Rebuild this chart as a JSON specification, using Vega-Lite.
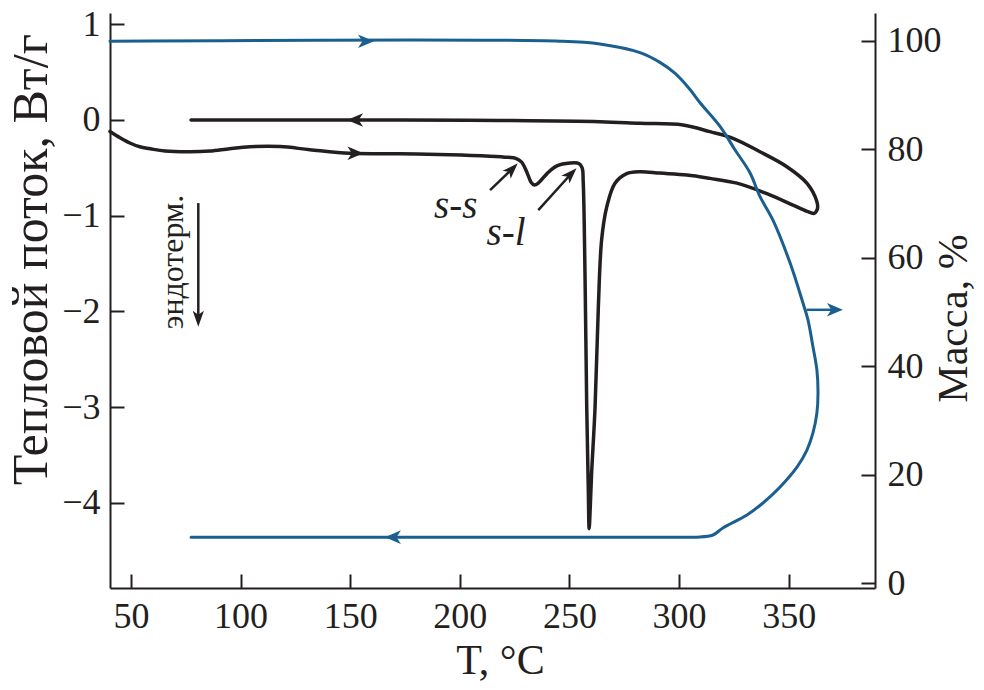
{
  "$schema": "https://vega.github.io/schema/vega-lite/v6.json",
  "width": 765,
  "height": 575,
  "autosize": {"type": "none"},
  "padding": {"left": 110, "top": 13, "right": 109, "bottom": 102},
  "background": "white",
  "config": {
    "view": {"stroke": null},
    "font": "Liberation Serif",
    "axis": {
      "domainColor": "#231f20", "domainWidth": 2,
      "tickColor": "#231f20", "tickWidth": 2, "tickSize": -14,
      "labelFont": "Liberation Serif", "labelFontSize": 36, "labelColor": "#231f20",
      "titleFont": "Liberation Serif", "titleFontSize": 42, "titleFontWeight": "normal", "titleColor": "#231f20",
      "grid": false, "labelFlush": false, "labelOverlap": false
    }
  },
  "datasets": {
    "dsc": [
      {"i":1,"T":40.4,"hf":-0.12},{"i":2,"T":45,"hf":-0.185},{"i":3,"T":49.5,"hf":-0.24},{"i":4,"T":54,"hf":-0.28},
      {"i":5,"T":58.7,"hf":-0.30},{"i":6,"T":65.5,"hf":-0.325},{"i":7,"T":76.9,"hf":-0.333},{"i":8,"T":86,"hf":-0.325},
      {"i":9,"T":95,"hf":-0.30},{"i":10,"T":104.3,"hf":-0.28},{"i":11,"T":118,"hf":-0.278},{"i":12,"T":131.6,"hf":-0.31},
      {"i":13,"T":149.9,"hf":-0.348},{"i":14,"T":172.7,"hf":-0.352},{"i":15,"T":195.5,"hf":-0.362},{"i":16,"T":213.8,"hf":-0.378},
      {"i":17,"T":222,"hf":-0.39},{"i":18,"T":225.5,"hf":-0.40},{"i":19,"T":228.2,"hf":-0.44},{"i":20,"T":230.5,"hf":-0.54},
      {"i":21,"T":232.5,"hf":-0.65},{"i":22,"T":234,"hf":-0.68},{"i":23,"T":236,"hf":-0.655},{"i":24,"T":239.8,"hf":-0.56},
      {"i":25,"T":244.3,"hf":-0.48},{"i":26,"T":250.3,"hf":-0.45},{"i":27,"T":254.3,"hf":-0.455},{"i":28,"T":255.8,"hf":-0.50},
      {"i":29,"T":256.3,"hf":-0.65},{"i":30,"T":257.1,"hf":-1.60},{"i":31,"T":257.9,"hf":-3.00},{"i":32,"T":258.6,"hf":-3.85},
      {"i":33,"T":259.0,"hf":-4.27},{"i":34,"T":259.5,"hf":-4.05},{"i":35,"T":260.1,"hf":-3.70},{"i":36,"T":261.7,"hf":-3.00},
      {"i":37,"T":263.2,"hf":-1.95},{"i":38,"T":264.7,"hf":-1.25},{"i":39,"T":267.0,"hf":-0.91},{"i":40,"T":270.8,"hf":-0.66},
      {"i":41,"T":276.1,"hf":-0.56},{"i":42,"T":282.2,"hf":-0.54},{"i":43,"T":291.3,"hf":-0.555},{"i":44,"T":303.6,"hf":-0.575},
      {"i":45,"T":314.1,"hf":-0.61},{"i":46,"T":326.4,"hf":-0.66},{"i":47,"T":340.1,"hf":-0.77},{"i":48,"T":352.0,"hf":-0.89},
      {"i":49,"T":358.4,"hf":-0.955},{"i":50,"T":361.6,"hf":-0.975},{"i":51,"T":363.1,"hf":-0.93},{"i":52,"T":362.9,"hf":-0.854},
      {"i":53,"T":358.4,"hf":-0.662},{"i":54,"T":349.2,"hf":-0.488},{"i":55,"T":336.9,"hf":-0.331},{"i":56,"T":324.6,"hf":-0.191},
      {"i":57,"T":314.1,"hf":-0.122},{"i":58,"T":301.8,"hf":-0.052},{"i":59,"T":282.2,"hf":-0.035},{"i":60,"T":263.9,"hf":-0.018},
      {"i":61,"T":218.3,"hf":-0.005},{"i":62,"T":172.7,"hf":0},{"i":63,"T":77.4,"hf":0}
    ],
    "mass": [
      {"i":1,"T":40.4,"m":99.9},{"i":2,"T":245.7,"m":99.9},{"i":3,"T":263.9,"m":99.4},{"i":4,"T":282.2,"m":97.8},
      {"i":5,"T":291.3,"m":96.0},{"i":6,"T":298.1,"m":94.0},{"i":7,"T":305.0,"m":91.0},{"i":8,"T":309.5,"m":88.6},
      {"i":9,"T":318.7,"m":84.2},{"i":10,"T":325.5,"m":79.9},{"i":11,"T":332.3,"m":75.7},{"i":12,"T":336.9,"m":71.3},
      {"i":13,"T":343.0,"m":66.8},{"i":14,"T":350.6,"m":59.1},{"i":15,"T":356.5,"m":51.7},{"i":16,"T":358.8,"m":48.6},
      {"i":17,"T":361.1,"m":43.6},{"i":18,"T":362.9,"m":39.3},{"i":19,"T":363.4,"m":35.0},{"i":20,"T":362.9,"m":31.4},
      {"i":21,"T":361.1,"m":27.7},{"i":22,"T":358.4,"m":24.6},{"i":23,"T":353.8,"m":21.4},{"i":24,"T":346.0,"m":17.7},
      {"i":25,"T":338.3,"m":14.8},{"i":26,"T":331.0,"m":12.6},{"i":27,"T":320.0,"m":10.2},{"i":28,"T":315.5,"m":8.9},
      {"i":29,"T":308.2,"m":8.5},{"i":30,"T":300.4,"m":8.5},{"i":31,"T":77.4,"m":8.5}
    ]
  },
  "layer": [
    {
      "encoding": {
        "x": {"field": "T", "type": "quantitative",
          "scale": {"domain": [40.42, 389.4], "nice": false, "zero": false},
          "axis": {"values": [50,100,150,200,250,300,350], "format": "d", "title": "T, °C", "titleX": 390, "labelPadding": 25, "titlePadding": 6}},
        "y": {"field": "hf", "type": "quantitative",
          "scale": {"domain": [-4.89, 1.118], "nice": false, "zero": false},
          "axis": {"values": [-4,-3,-2,-1,0,1], "format": "d", "title": "Тепловой поток, Вт/г", "titleFontSize": 50, "titleY": 246, "labelPadding": 24, "titlePadding": 5}}
      },
      "layer": [
        {"data": {"name": "dsc"}, "mark": {"type": "line", "color": "#231f20", "strokeWidth": 3.5, "strokeJoin": "round", "strokeCap": "round", "interpolate": "catmull-rom"},
         "encoding": {"order": {"field": "i", "type": "quantitative"}}},
        {"data": {"values": [{"T":213.8,"hf":-0.732,"T2":223.9,"hf2":-0.512},{"T":235.8,"hf":-0.941,"T2":250.7,"hf2":-0.564},{"T":80.7,"hf":-0.868,"T2":80.7,"hf2":-2.077}]},
         "mark": {"type": "rule", "color": "#231f20", "strokeWidth": 2.5},
         "encoding": {"x2": {"field": "T2"}, "y2": {"field": "hf2"}}},
        {"data": {"values": [{"T":152.4,"hf":-0.348}]},
         "mark": {"type": "point", "shape": "M1,0L-1,-0.85L-0.45,0L-1,0.85Z", "filled": true, "color": "#231f20", "opacity": 1, "size": 256, "strokeWidth": 0}},
        {"data": {"values": [{"T":152.2,"hf":0}]},
         "mark": {"type": "point", "shape": "M-1,0L1,-0.85L0.45,0L1,0.85Z", "filled": true, "color": "#231f20", "opacity": 1, "size": 256, "strokeWidth": 0}},
        {"data": {"values": [{"T":223.9,"hf":-0.512},{"T":250.7,"hf":-0.564}]},
         "mark": {"type": "point", "shape": "M1,0L-1,-0.7L-0.5,0L-1,0.7Z", "angle": -46, "filled": true, "color": "#231f20", "opacity": 1, "size": 256, "strokeWidth": 0}},
        {"data": {"values": [{"T":80.7,"hf":-2.077}]},
         "mark": {"type": "point", "shape": "M1,0L-1,-0.7L-0.5,0L-1,0.7Z", "angle": 90, "filled": true, "color": "#231f20", "opacity": 1, "size": 256, "strokeWidth": 0}},
        {"data": {"values": [{"T":198.1,"hf":-0.899,"label":"s-s"},{"T":221.1,"hf":-1.18,"label":"s-l"}]},
         "mark": {"type": "text", "font": "Liberation Serif", "fontStyle": "italic", "fontSize": 39, "color": "#231f20", "align": "center", "baseline": "middle"},
         "encoding": {"text": {"field": "label"}}},
        {"data": {"values": [{"T":69.3,"hf":-1.484,"label":"эндотерм."}]},
         "mark": {"type": "text", "font": "Liberation Serif", "fontSize": 32, "color": "#231f20", "align": "center", "baseline": "middle", "angle": 270},
         "encoding": {"text": {"field": "label"}}}
      ]
    },
    {
      "encoding": {
        "x": {"field": "T", "type": "quantitative",
          "scale": {"domain": [40.42, 389.4], "nice": false, "zero": false},
          "axis": {"values": [50,100,150,200,250,300,350], "format": "d", "title": "T, °C", "titleX": 390, "labelPadding": 25, "titlePadding": 6}},
        "y": {"field": "m", "type": "quantitative",
          "scale": {"domain": [-0.87, 105.1], "nice": false, "zero": false},
          "axis": {"orient": "right", "values": [0,20,40,60,80,100], "format": "d", "title": "Масса, %", "titleAngle": 270, "titleFontSize": 42, "titleY": 305, "labelPadding": 26, "titlePadding": 34}}
      },
      "layer": [
        {"data": {"name": "mass"}, "mark": {"type": "line", "color": "#1b5f91", "strokeWidth": 3, "strokeJoin": "round", "strokeCap": "round", "interpolate": "catmull-rom"},
         "encoding": {"order": {"field": "i", "type": "quantitative"}}},
        {"data": {"values": [{"T":358.2,"m":50.4,"T2":371.1}]},
         "mark": {"type": "rule", "color": "#1b5f91", "strokeWidth": 2.5},
         "encoding": {"x2": {"field": "T2"}}},
        {"data": {"values": [{"T":157.2,"m":99.9},{"T":371.1,"m":50.4}]},
         "mark": {"type": "point", "shape": "M1,0L-1,-0.85L-0.45,0L-1,0.85Z", "filled": true, "color": "#1b5f91", "opacity": 1, "size": 256, "strokeWidth": 0}},
        {"data": {"values": [{"T":169.5,"m":8.5}]},
         "mark": {"type": "point", "shape": "M-1,0L1,-0.85L0.45,0L1,0.85Z", "filled": true, "color": "#1b5f91", "opacity": 1, "size": 256, "strokeWidth": 0}}
      ]
    }
  ],
  "resolve": {"scale": {"y": "independent"}}
}
